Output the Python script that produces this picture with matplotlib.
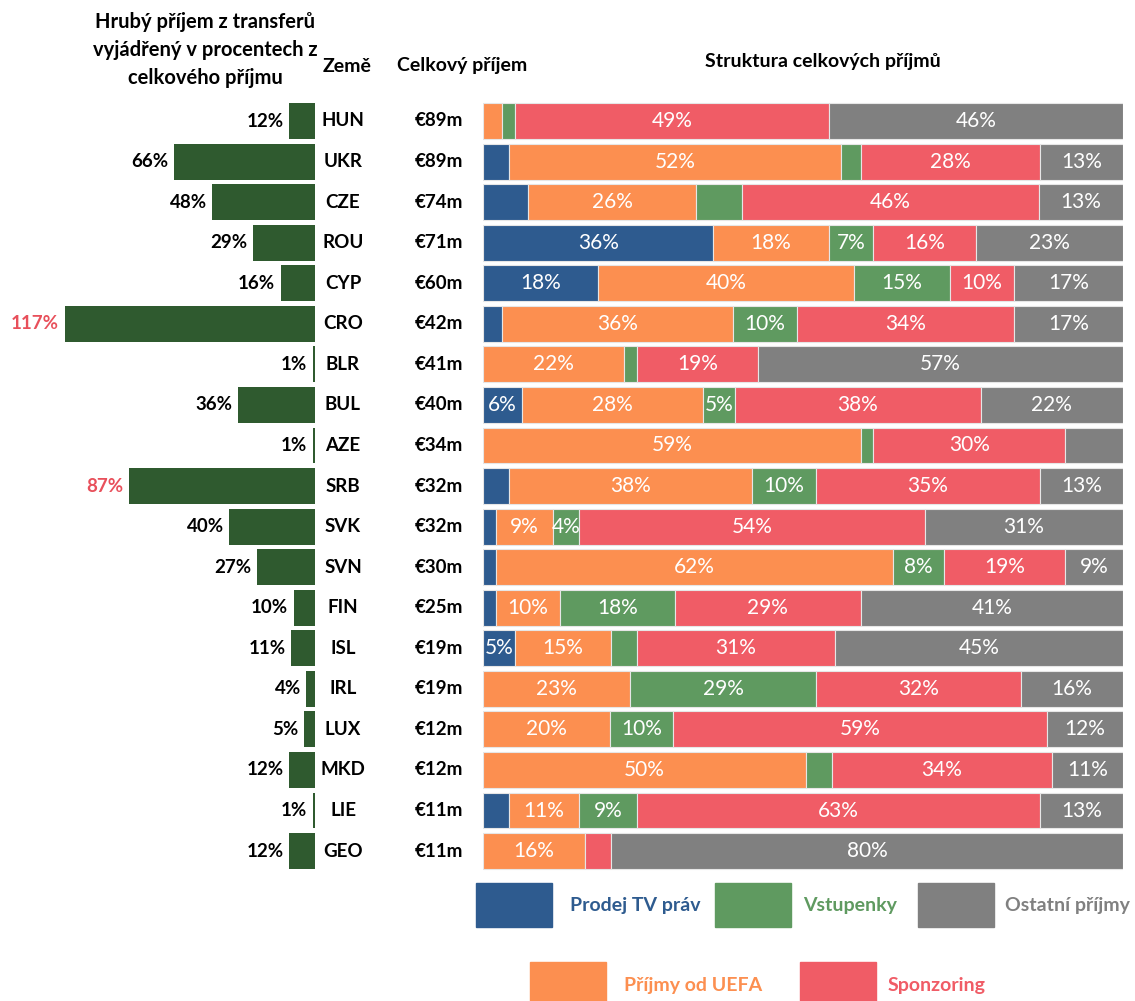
import numpy as np
import matplotlib
matplotlib.use("Agg")
import matplotlib.pyplot as plt
from matplotlib.patches import Rectangle

plt.rcParams["font.family"] = ["Lato", "DejaVu Sans"]

# data
countries = ["HUN", "UKR", "CZE", "ROU", "CYP", "CRO", "BLR", "BUL", "AZE", "SRB",
             "SVK", "SVN", "FIN", "ISL", "IRL", "LUX", "MKD", "LIE", "GEO"]
transfer_pct = [12, 66, 48, 29, 16, 117, 1, 36, 1, 87, 40, 27, 10, 11, 4, 5, 12, 1, 12]
total_income = [89, 89, 74, 71, 60, 42, 41, 40, 34, 32, 32, 30, 25, 19, 19, 12, 12, 11, 11]

tv_rights = [0, 4, 7, 36, 18, 3, 0, 6, 0, 4, 2, 2, 2, 5, 0, 0, 0, 4, 0]
uefa = [3, 52, 26, 18, 40, 36, 22, 28, 59, 38, 9, 62, 10, 15, 23, 20, 50, 11, 16]
tickets = [2, 3, 7, 7, 15, 10, 2, 5, 2, 10, 4, 8, 18, 4, 29, 10, 4, 9, 0]
sponsoring = [49, 28, 46, 16, 10, 34, 19, 38, 30, 35, 54, 19, 29, 31, 32, 59, 34, 63, 4]
other = [46, 13, 13, 23, 17, 17, 57, 22, 9, 13, 31, 9, 41, 45, 16, 12, 11, 13, 80]

series_names = ["Prodej TV práv", "Příjmy od UEFA", "Vstupenky", "Sponzoring", "Ostatní příjmy"]
series_colors = ["#2E5B8F", "#FC8F50", "#5F9A60", "#F05C66", "#808080"]

# segments that carry no label in the original
unlabeled = {
    ("HUN", 1), ("HUN", 2), ("UKR", 0), ("UKR", 2), ("CZE", 0), ("CZE", 2),
    ("CRO", 0), ("BLR", 2), ("AZE", 2), ("AZE", 4), ("SRB", 0), ("SVK", 0),
    ("SVN", 0), ("FIN", 0), ("ISL", 2), ("MKD", 2), ("LIE", 0), ("GEO", 3),
}
highlight = ["CRO", "SRB"]

W, H = 1135, 1001
ROW0, PITCH = 121, 40.56
n = len(countries)
y_top = ROW0 - PITCH / 2
y_bot = ROW0 + PITCH * (n - 1) + PITCH / 2


def rect(x0, y0, x1, y1):
    return [x0 / W, 1 - y1 / H, (x1 - x0) / W, (y1 - y0) / H]


fig = plt.figure(figsize=(W / 100, H / 100), dpi=100)
rows = np.arange(n)
bar_h = 0.885

# left bars: transfer income share
ax_l = fig.add_axes(rect(0, y_top, 315, y_bot))
ax_l.barh(rows, transfer_pct, height=bar_h, color="#2F5A2F")
ax_l.set_xlim(315 / 2.14, 0)
ax_l.set_ylim(n - 0.5, -0.5)
ax_l.axis("off")
for i, v in enumerate(transfer_pct):
    col = "#E8505B" if countries[i] in highlight else "black"
    ax_l.annotate(f"{v}%", (v, i), xytext=(-4, 0), textcoords="offset points",
                  ha="right", va="center", fontsize=13.5, fontweight="bold", color=col)

# stacked 100% bars
ax_r = fig.add_axes(rect(483, y_top, 1123, y_bot))
vals = np.array([tv_rights, uefa, tickets, sponsoring, other], dtype=float)
shares = vals / vals.sum(axis=0) * 100
left = np.zeros(n)
for k in range(len(series_names)):
    ax_r.barh(rows, shares[k], left=left, height=bar_h, color=series_colors[k],
              edgecolor="#E6E6E6", linewidth=0.8)
    for i in range(n):
        if vals[k, i] > 0 and (countries[i], k) not in unlabeled:
            ax_r.text(left[i] + shares[k, i] / 2, i, f"{int(vals[k, i])}%",
                      ha="center", va="center", color="white", fontsize=15)
    left += shares[k]
ax_r.set_xlim(0, 100)
ax_r.set_ylim(n - 0.5, -0.5)
ax_r.axis("off")

# country and total income columns
for i in range(n):
    yf = 1 - (ROW0 + PITCH * i) / H
    fig.text(343 / W, yf, countries[i], ha="center", va="center",
             fontsize=13.5, fontweight="bold")
    fig.text(439 / W, yf, f"€{total_income[i]}m", ha="center", va="center",
             fontsize=13.5, fontweight="bold")

# headers
fig.text(205 / W, 1 - 50 / H, "Hrubý příjem z transferů\nvyjádřený v procentech z\ncelkového příjmu",
         ha="center", va="center", fontsize=14.5, fontweight="bold", linespacing=1.5)
fig.text(347 / W, 1 - 66 / H, "Země", ha="center", va="center", fontsize=14, fontweight="bold")
fig.text(462 / W, 1 - 66 / H, "Celkový příjem", ha="center", va="center", fontsize=14, fontweight="bold")
fig.text(823 / W, 1 - 62 / H, "Struktura celkových příjmů", ha="center", va="center",
         fontsize=14, fontweight="bold")

# legend swatches
legend_pos = [(476, 883, 570), (530, 962, 624), (715, 883, 803), (800, 962, 888), (918, 883, 1005)]
for k, (sx, sy, tx) in enumerate(legend_pos):
    fig.patches.append(Rectangle((sx / W, 1 - (sy + 44) / H), 76 / W, 44 / H,
                                 transform=fig.transFigure, color=series_colors[k]))
    fig.text(tx / W, 1 - (sy + 23) / H, series_names[k], ha="left", va="center",
             fontsize=14, fontweight="bold", color=series_colors[k])

fig.savefig("out.png", dpi=100)
